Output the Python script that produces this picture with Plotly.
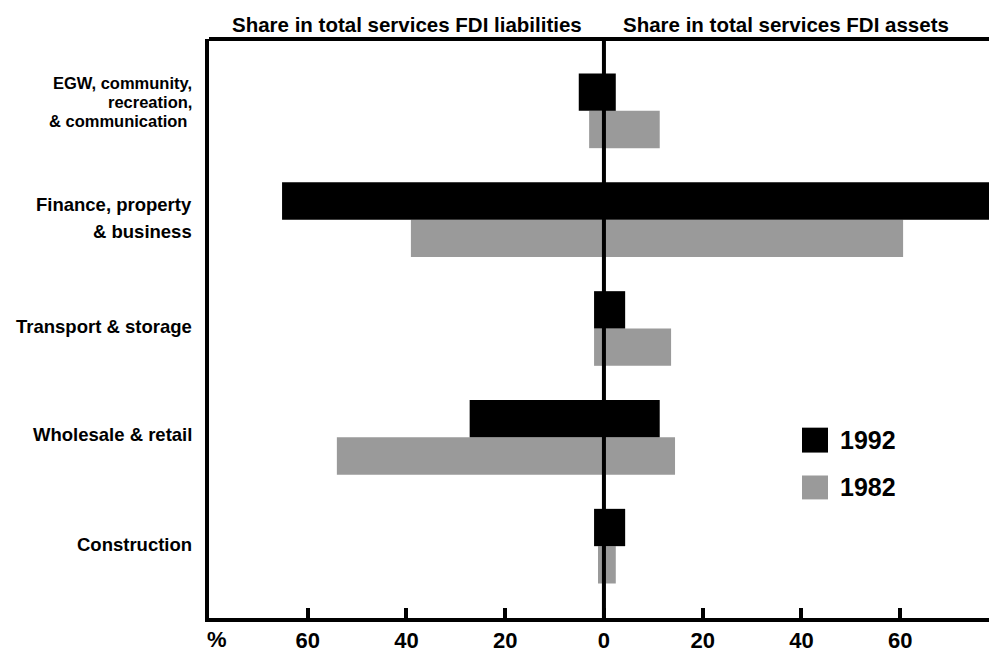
import plotly.graph_objects as go

# ---------------- data ----------------
categories = ["Construction", "Wholesale & retail", "Transport & storage",
              "Finance, property & business", "EGW, community, recreation, & communication"]
liab_1992 = [2.0, 27.2, 2.0, 65.2, 5.1]     # share in total services FDI liabilities (%)
assets_1992 = [4.3, 11.3, 4.3, 85.0, 2.4]   # share in total services FDI assets (%)
liab_1982 = [1.2, 54.1, 2.0, 39.1, 3.0]
assets_1982 = [2.4, 14.4, 13.6, 60.6, 11.3]
tick_vals = [-60, -40, -20, 0, 20, 40, 60]
tick_text = ["60", "40", "20", "0", "20", "40", "60"]
label_lines = [["Construction"], ["Wholesale & retail"], ["Transport & storage"],
               ["Finance, property", "& business"],
               ["EGW, community,", "recreation,", "& communication "]]

W, H = 989, 653
ML, MR, MT, MB = 209, 0, 39, 33
PW, PH = W - ML - MR, H - MT - MB

def px_x(p):
    return (p - ML) / PW

def px_y(p):
    return (H - MB - p) / PH

BLACK = "#000000"
GREY = "#9a9a9a"
BW = 0.343
FONT = "Liberation Sans, Arial, sans-serif"

fig = go.Figure()
for vals, color, off, sign in [(liab_1982, GREY, -BW, -1), (assets_1982, GREY, -BW, 1),
                               (liab_1992, BLACK, 0, -1), (assets_1992, BLACK, 0, 1)]:
    fig.add_trace(go.Bar(
        y=categories, x=[sign * v for v in vals], orientation="h",
        width=BW, offset=off, marker=dict(color=color, line=dict(width=0)),
        showlegend=False, hoverinfo="skip"))

fig.update_layout(
    width=W, height=H, barmode="overlay",
    margin=dict(l=ML, r=MR, t=MT, b=MB, pad=0),
    paper_bgcolor="white", plot_bgcolor="white",
    font=dict(family=FONT, color="black"),
    xaxis=dict(range=[-80, 78], tickvals=tick_vals, ticktext=tick_text,
               ticks="inside", ticklen=10, tickwidth=4, tickcolor="black",
               showline=True, linewidth=4, linecolor="black",
               showgrid=False, zeroline=False,
               tickfont=dict(family=FONT, size=22, color="black", weight="bold")),
    yaxis=dict(range=[-0.66, 4.66], categoryorder="array", categoryarray=categories,
               showticklabels=False, ticks="", showline=True, linewidth=4,
               linecolor="black", showgrid=False, zeroline=False),
)

# top border and zero line
fig.add_shape(type="line", xref="paper", yref="paper", x0=0, x1=1, y0=1, y1=1,
              line=dict(color="black", width=4), layer="above")
fig.add_shape(type="line", xref="x", yref="paper", x0=0, x1=0, y0=0, y1=1,
              line=dict(color="black", width=4), layer="above")

# category labels
label_pos = [[546], [436], [327], [205, 232], [83, 102, 121]]
label_size = [18.5, 18.5, 18.5, 18.5, 16.5]
annots = []
for lines, ys, sz in zip(label_lines, label_pos, label_size):
    for t, yy in zip(lines, ys):
        annots.append(dict(text=t, xref="paper", yref="paper", x=px_x(194), y=px_y(yy),
                           xanchor="right", yanchor="middle", showarrow=False,
                           font=dict(size=sz, weight="bold", family=FONT)))

# headers
for t, cx in [("Share in total services FDI liabilities", 407),
              ("Share in total services FDI assets", 786)]:
    annots.append(dict(text=t, xref="paper", yref="paper", x=px_x(cx), y=px_y(24),
                       xanchor="center", yanchor="middle", showarrow=False,
                       font=dict(size=20.5, weight="bold", family=FONT)))

annots.append(dict(text="%", xref="paper", yref="paper", x=px_x(217), y=px_y(642),
                   xanchor="center", yanchor="middle", showarrow=False,
                   font=dict(size=22, weight="bold", family=FONT)))

# legend
for yr, color, y0, y1 in [("1992", BLACK, 429, 454), ("1982", GREY, 477, 501)]:
    fig.add_shape(type="rect", xref="paper", yref="paper", x0=px_x(802), x1=px_x(828),
                  y0=px_y(y1), y1=px_y(y0), fillcolor=color, line=dict(width=0))
    annots.append(dict(text=yr, xref="paper", yref="paper", x=px_x(838), y=px_y((y0 + y1) / 2),
                       xanchor="left", yanchor="middle", showarrow=False,
                       font=dict(size=25, weight="bold", family=FONT)))

fig.update_layout(annotations=annots)
fig.write_html("out.html", config={"displayModeBar": False})

# remove default page margin so the figure fills the window exactly
with open("out.html", encoding="utf-8") as f:
    html = f.read()
html = html.replace("<head>", "<head><style>html,body{margin:0;padding:0;overflow:hidden;}</style>", 1)
with open("out.html", "w", encoding="utf-8") as f:
    f.write(html)
